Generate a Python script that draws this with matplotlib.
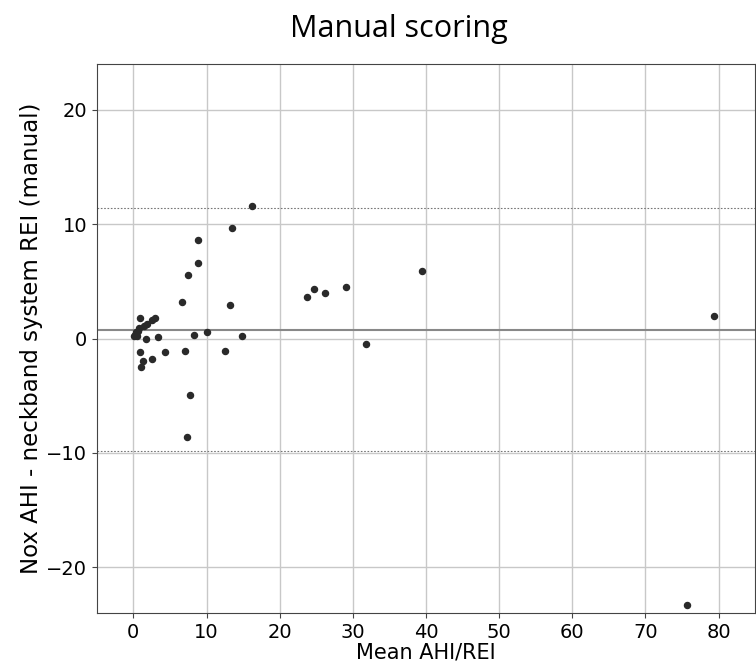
import matplotlib
matplotlib.use("Agg")
import matplotlib.pyplot as plt
from matplotlib.font_manager import FontProperties

plt.rcParams["font.family"] = "DejaVu Sans"

# Bland-Altman values
mean_ahi = [16.2, 13.5, 8.9, 8.9, 7.5, 6.6, 13.2, 0.9, 2.9, 2.5,
            1.9, 1.4, 0.8, 0.6, 0.4, 0.3, 0.5, 0.2, 0.1, 1.7,
            3.4, 8.3, 10.0, 14.8, 0.9, 4.3, 7.1, 12.5, 2.6, 1.3,
            1.1, 7.8, 7.4, 23.8, 24.7, 26.2, 29.0, 31.8, 39.5, 79.3,
            75.7]
diff_ahi = [11.6, 9.7, 8.6, 6.6, 5.6, 3.2, 2.9, 1.8, 1.8, 1.6,
            1.3, 1.1, 0.9, 0.7, 0.6, 0.4, 0.2, 0.3, 0.2, 0.0,
            0.1, 0.3, 0.6, 0.2, -1.2, -1.2, -1.1, -1.1, -1.8, -2.0,
            -2.5, -4.9, -8.6, 3.6, 4.3, 4.0, 4.5, -0.5, 5.9, 2.0,
            -23.3]
bias = 0.78
loa_upper = 11.4
loa_lower = -9.85

xticks = [0, 10, 20, 30, 40, 50, 60, 70, 80]
yticks = [-20, -10, 0, 10, 20]

fig = plt.figure(figsize=(7.56, 6.69), dpi=100)
ax = fig.add_axes([0.128, 0.084, 0.871, 0.82])

ax.grid(True, color="#c8c8c8", linewidth=1.0)
ax.set_axisbelow(True)
ax.axhline(bias, color="#888888", linewidth=1.5)
ax.axhline(loa_upper, color="#777777", linewidth=0.8, linestyle=(0, (1.5, 1.5)))
ax.axhline(loa_lower, color="#777777", linewidth=0.8, linestyle=(0, (1.5, 1.5)))
ax.scatter(mean_ahi, diff_ahi, s=19, color="#2a2a2a", zorder=3)

ax.set_xlim(-5, 85)
ax.set_ylim(-24, 24)
ax.set_xticks(xticks)
ax.set_yticks(yticks)
ax.tick_params(labelsize=14, color="#444444")
for s in ax.spines.values():
    s.set_color("#444444")

ax.set_xlabel("Mean AHI/REI", fontsize=15, labelpad=1)
ax.set_ylabel("Nox AHI - neckband system REI (manual)", fontsize=16.5, labelpad=2)

title_font = FontProperties(family="Open Sans", size=22)
fig.text(0.527, 0.957, "Manual scoring", ha="center", va="center",
         fontproperties=title_font)

fig.savefig("out.png", dpi=100)
